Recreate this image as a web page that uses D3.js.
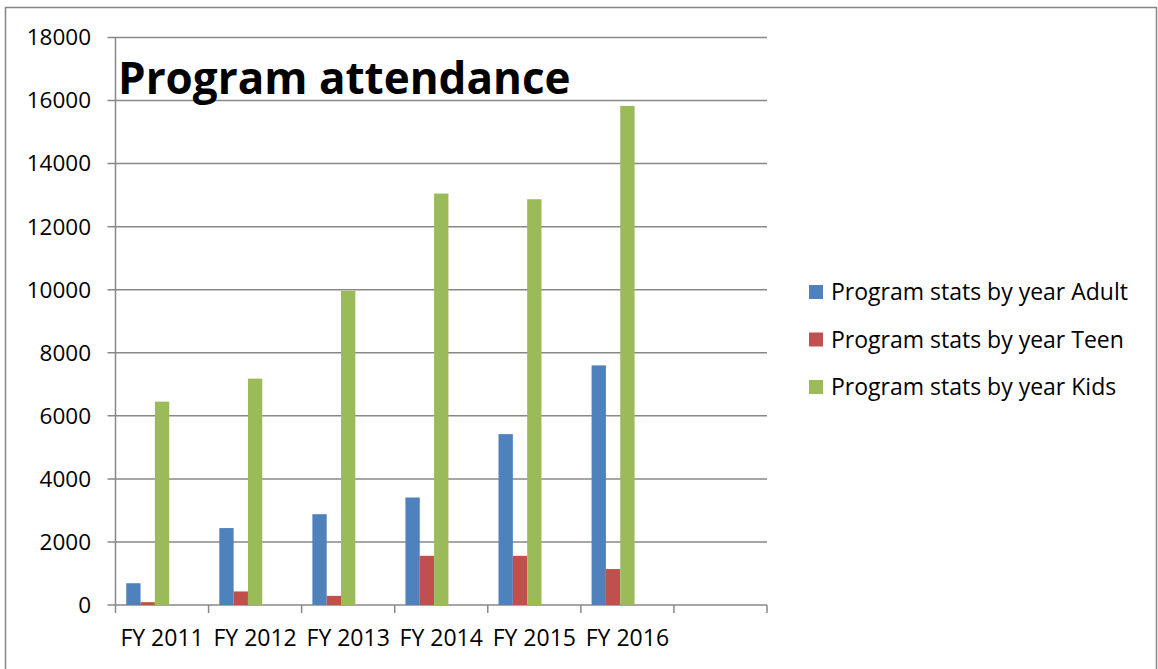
<!DOCTYPE html>
<html>
<head>
<meta charset="utf-8">
<script src="https://cdn.jsdelivr.net/npm/d3@7"></script>
<style>
  body { margin: 0; background: #fff; }
  text { font-family: "Open Sans", sans-serif; fill: #000; }
</style>
</head>
<body>
<script>
// categories (the last slot is empty in the original workbook)
var categories = ["FY 2011", "FY 2012", "FY 2013", "FY 2014", "FY 2015", "FY 2016", ""];
var seriesNames = ["Program stats by year Adult", "Program stats by year Teen", "Program stats by year Kids"];
var adult = [690, 2440, 2880, 3410, 5420, 7600];
var teen = [90, 430, 290, 1560, 1560, 1140];
var kids = [6450, 7180, 9960, 13050, 12870, 15830];
var yTicks = [0, 2000, 4000, 6000, 8000, 10000, 12000, 14000, 16000, 18000];
var colors = ["#4f81bd", "#c0504d", "#9bbb59"];

var width = 1158, height = 669;
var plot = { left: 115.5, right: 767, top: 37.5, bottom: 605 };

var svg = d3.select("body").append("svg")
    .attr("width", width)
    .attr("height", height);

// outer chart border
svg.append("rect")
    .attr("x", 5.5).attr("y", 7.5)
    .attr("width", 1151).attr("height", 670)
    .attr("fill", "none")
    .attr("stroke", "#868686")
    .attr("stroke-width", 1.5);

var x0 = d3.scaleBand()
    .domain(categories)
    .range([plot.left, plot.right]);

// five slots per group, only three series carry data
var x1 = d3.scaleBand()
    .domain(["Adult", "Teen", "Kids", "s4", "s5"])
    .range([0, x0.bandwidth()])
    .paddingInner(0)
    .paddingOuter(0.75);

var y = d3.scaleLinear()
    .domain([0, 18000])
    .range([plot.bottom, plot.top]);

// gridlines
svg.append("g")
    .selectAll("line")
    .data(yTicks)
    .enter().append("line")
    .attr("x1", plot.left - 8)
    .attr("x2", plot.right)
    .attr("y1", function (d) { return y(d); })
    .attr("y2", function (d) { return y(d); })
    .attr("stroke", "#888")
    .attr("stroke-width", 1.5);

// y labels
svg.append("g")
    .selectAll("text")
    .data(yTicks)
    .enter().append("text")
    .attr("x", 91)
    .attr("y", function (d) { return y(d); })
    .attr("dy", "0.35em")
    .attr("text-anchor", "end")
    .style("font-size", "22.5px")
    .text(function (d) { return d; });

// y axis line
svg.append("line")
    .attr("x1", plot.left).attr("x2", plot.left)
    .attr("y1", plot.top).attr("y2", plot.bottom)
    .attr("stroke", "#888")
    .attr("stroke-width", 1.5);

// x axis ticks
var xTickPos = categories.map(function (c) { return x0(c); }).concat([plot.right]);
svg.append("g")
    .selectAll("line")
    .data(xTickPos)
    .enter().append("line")
    .attr("x1", function (d) { return d; })
    .attr("x2", function (d) { return d; })
    .attr("y1", plot.bottom)
    .attr("y2", plot.bottom + 8)
    .attr("stroke", "#888")
    .attr("stroke-width", 1.5);

svg.append("g")
    .selectAll("text")
    .data(categories)
    .enter().append("text")
    .attr("x", function (d) { return x0(d) + x0.bandwidth() / 2; })
    .attr("y", 646)
    .attr("text-anchor", "middle")
    .style("font-size", "23px")
    .text(function (d) { return d; });

// bars
var series = [
    { key: "Adult", values: adult },
    { key: "Teen", values: teen },
    { key: "Kids", values: kids }
];

series.forEach(function (s, si) {
    svg.append("g")
        .selectAll("rect")
        .data(s.values)
        .enter().append("rect")
        .attr("x", function (d, i) { return x0(categories[i]) + x1(s.key); })
        .attr("y", function (d) { return y(d); })
        .attr("width", x1.bandwidth())
        .attr("height", function (d) { return plot.bottom - y(d); })
        .attr("fill", colors[si]);
});

// title
svg.append("text")
    .attr("x", 118)
    .attr("y", 94)
    .style("font-size", "44px")
    .style("font-weight", "bold")
    .text("Program attendance");

// legend
var legend = svg.append("g")
    .selectAll("g")
    .data(seriesNames)
    .enter().append("g")
    .attr("transform", function (d, i) { return "translate(809," + (292 + i * 47.5) + ")"; });

legend.append("rect")
    .attr("x", 0).attr("y", -7)
    .attr("width", 14).attr("height", 14)
    .attr("fill", function (d, i) { return colors[i]; });

legend.append("text")
    .attr("x", 22)
    .attr("dy", "0.35em")
    .style("font-size", "23px")
    .text(function (d) { return d; });
</script>
</body>
</html>
